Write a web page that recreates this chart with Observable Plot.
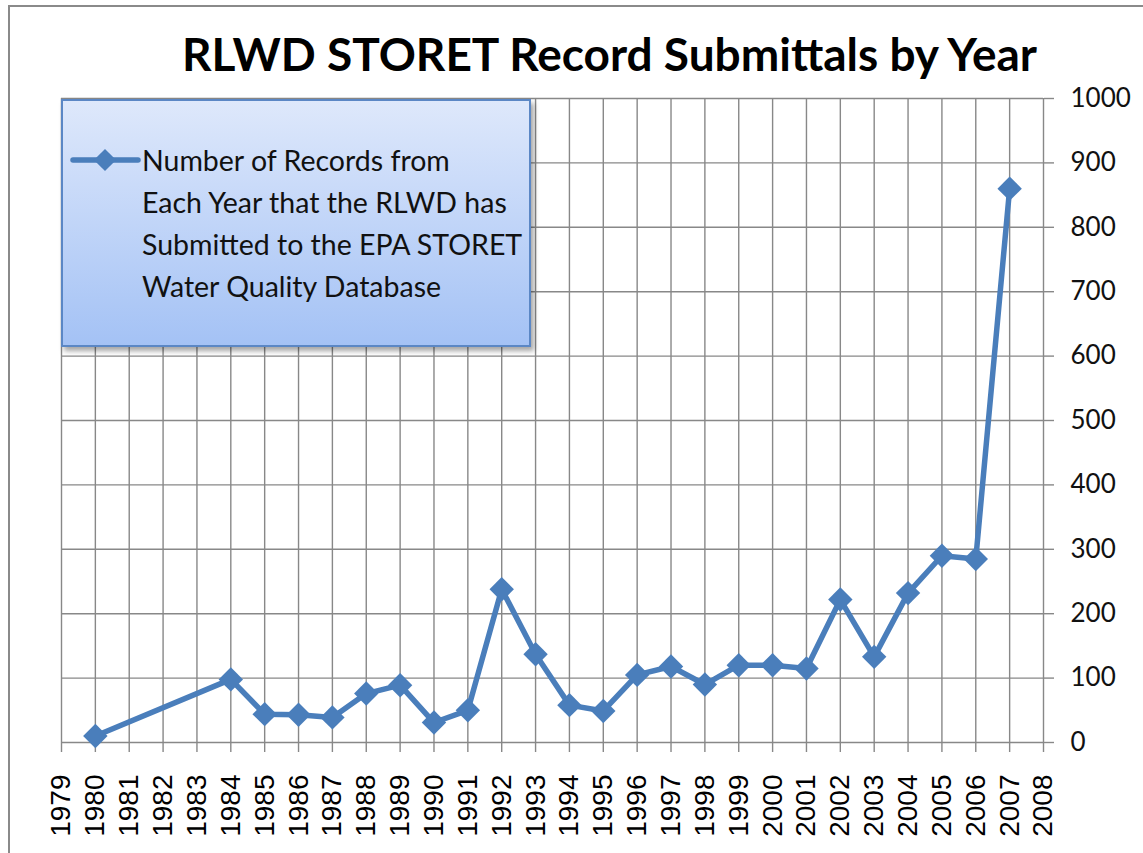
<!DOCTYPE html>
<html><head><meta charset="utf-8">
<script src="https://cdn.jsdelivr.net/npm/d3@7"></script>
<script src="https://cdn.jsdelivr.net/npm/@observablehq/plot@0.6"></script>
<style>
body{margin:0;background:#fff;}
#wrap{position:relative;width:1143px;height:853px;overflow:hidden;background:#fff;}
#frame{position:absolute;left:8px;top:5px;width:1200px;height:900px;border:2px solid #8a8a8a;}
#title{position:absolute;left:182px;top:24px;white-space:nowrap;font-family:Lato,sans-serif;font-weight:bold;font-size:46px;color:#000;line-height:60px;}
#chart{position:absolute;left:0;top:0;}
#legend{position:absolute;left:61px;top:99px;width:466px;height:244px;border:2px solid #5b87c5;background:linear-gradient(#dee8fb,#a4c2f5);box-shadow:3px 4px 5px rgba(0,0,0,0.35);}
#legend .txt{position:absolute;left:79px;top:38px;font-family:Lato,sans-serif;font-size:28.5px;line-height:42px;color:#111;white-space:nowrap;}
#legend svg{position:absolute;left:0;top:0;}
</style></head>
<body>
<div id="wrap">
  <div id="frame"></div>
  <div id="chart"></div>
  <div id="title"></div>
  <div id="legend"></div>
</div>
<script>
const titleText = "RLWD STORET Record Submittals by Year";
const seriesName = ["Number of Records from", "Each Year that the RLWD has", "Submitted to the EPA STORET", "Water Quality Database"];
const years   = [1980, 1984, 1985, 1986, 1987, 1988, 1989, 1990, 1991, 1992, 1993, 1994, 1995, 1996, 1997, 1998, 1999, 2000, 2001, 2002, 2003, 2004, 2005, 2006, 2007];
const records = [10, 98, 44, 43, 39, 76, 89, 31, 50, 238, 137, 58, 49, 105, 118, 90, 120, 120, 115, 222, 133, 232, 290, 285, 860];
const yearTicks = [1979, 1980, 1981, 1982, 1983, 1984, 1985, 1986, 1987, 1988, 1989, 1990, 1991, 1992, 1993, 1994, 1995, 1996, 1997, 1998, 1999, 2000, 2001, 2002, 2003, 2004, 2005, 2006, 2007, 2008];
const yTicks = [0, 100, 200, 300, 400, 500, 600, 700, 800, 900, 1000];

const lineColor = "#4a7ebb";
const gridColor = "#888888";
const data = years.map((y, i) => ({year: y, value: records[i]}));

document.getElementById("title").textContent = titleText;

const chart = Plot.plot({
  width: 1143, height: 853,
  marginLeft: 61, marginRight: 100, marginTop: 98, marginBottom: 111,
  x: {domain: [1979, 2008]},
  y: {domain: [0, 1000]},
  style: {background: "transparent", overflow: "visible"},
  marks: [
    Plot.ruleX(yearTicks, {x: d => d, stroke: gridColor, strokeWidth: 1.4}),
    Plot.ruleY(yTicks, {y: d => d, stroke: gridColor, strokeWidth: 1.4}),
    Plot.axisX({ticks: yearTicks, tickFormat: d => String(d), tickSize: 10, tickPadding: 22, tickRotate: -90,
      fontSize: 28, fontFamily: "Liberation Sans, Arial, sans-serif", stroke: gridColor, strokeWidth: 1.4, fill: "#000", label: null}),
    Plot.axisY({anchor: "right", ticks: yTicks, tickFormat: d => String(d), tickSize: 10, tickPadding: 17,
      fontSize: 26, fontFamily: "Lato, sans-serif", stroke: gridColor, strokeWidth: 1.4, fill: "#111", label: null}),
    Plot.line(data, {x: "year", y: "value", stroke: lineColor, strokeWidth: 5.5, strokeLinejoin: "round"}),
    Plot.dot(data, {x: "year", y: "value", symbol: "diamond2", r: 11, fill: lineColor, stroke: "none"})
  ]
});
document.getElementById("chart").appendChild(chart);

// legend
const legend = document.getElementById("legend");
const ls = d3.select(legend).append("svg").attr("width", 90).attr("height", 100);
ls.append("line").attr("x1", 10).attr("x2", 75).attr("y1", 59).attr("y2", 59)
  .attr("stroke", lineColor).attr("stroke-width", 5.5).attr("stroke-linecap", "round");
ls.append("path").attr("d", d3.symbol(d3.symbolDiamond2, Math.PI * 100)()).attr("transform", "translate(42,59)")
  .attr("fill", lineColor);
const txt = document.createElement("div");
txt.className = "txt";
txt.innerHTML = seriesName.join("<br>");
legend.appendChild(txt);
</script>
</body></html>
